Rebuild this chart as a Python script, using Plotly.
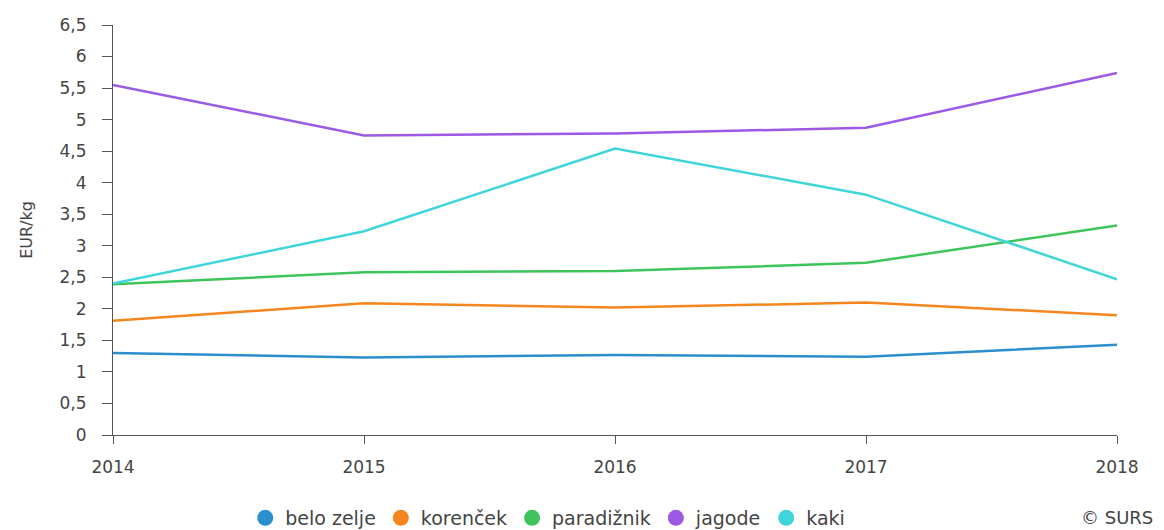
import plotly.graph_objects as go

years = [2014, 2015, 2016, 2017, 2018]
belo_zelje = [1.30, 1.23, 1.27, 1.24, 1.43]
korencek = [1.81, 2.09, 2.02, 2.10, 1.90]
paradiznik = [2.39, 2.58, 2.60, 2.73, 3.32]
jagode = [5.55, 4.75, 4.78, 4.87, 5.74]
kaki = [2.40, 3.23, 4.54, 3.81, 2.47]

series = [
    ("belo zelje", belo_zelje, "#2b8fce"),
    ("korenček", korencek, "#f5861f"),
    ("paradižnik", paradiznik, "#3dc45a"),
    ("jagode", jagode, "#9c59e6"),
    ("kaki", kaki, "#3fd5d9"),
]

y_ticks = [0, 0.5, 1, 1.5, 2, 2.5, 3, 3.5, 4, 4.5, 5, 5.5, 6, 6.5]
y_labels = ["0", "0,5", "1", "1,5", "2", "2,5", "3", "3,5", "4", "4,5", "5", "5,5", "6", "6,5"]

fig = go.Figure()
for name, vals, col in series:
    fig.add_trace(go.Scatter(x=years, y=vals, mode="lines", name=name,
                             line=dict(color=col, width=2.5), showlegend=False,
                             hovertemplate="%{y}<extra>" + name + "</extra>"))
for name, vals, col in series:
    fig.add_trace(go.Scatter(x=[None], y=[None], mode="markers", name=name,
                             marker=dict(color=col, size=16, symbol="circle")))

FONT = "DejaVu Sans, Verdana, sans-serif"
TXT = "#444444"
fig.update_layout(
    width=1156, height=522,
    margin=dict(l=105, r=47, t=17, b=95),
    paper_bgcolor="white", plot_bgcolor="white",
    font=dict(family=FONT, size=16, color=TXT),
    showlegend=True,
    legend=dict(orientation="h", xref="paper", yref="container",
                x=0.433, xanchor="center", y=0.023, yanchor="middle",
                font=dict(size=19, color=TXT), itemwidth=30, tracegroupgap=0,
                bgcolor="rgba(0,0,0,0)"),
    xaxis=dict(range=[2014, 2018], tickvals=years, ticktext=[str(y) for y in years],
               showgrid=False, zeroline=False, showline=True, linecolor="#555555",
               linewidth=1, ticks="outside", ticklen=8, tickcolor="#555555",
               ticklabelstandoff=9, automargin=False,
               tickfont=dict(size=17, color=TXT)),
    yaxis=dict(range=[0, 6.5], tickvals=y_ticks, ticktext=y_labels,
               showgrid=False, zeroline=False, showline=True, linecolor="#555555",
               linewidth=1, ticks="outside", ticklen=10, tickcolor="#555555",
               ticklabelstandoff=12, automargin=False,
               tickfont=dict(size=17, color=TXT),
               title=dict(text="EUR/kg", font=dict(size=16, color=TXT), standoff=22)),
    annotations=[dict(text="© SURS", xref="paper", yref="paper", x=1.038, y=-0.202,
                      xanchor="right", yanchor="middle", showarrow=False,
                      font=dict(size=18, color=TXT))],
)

fig.write_html("out.html")
